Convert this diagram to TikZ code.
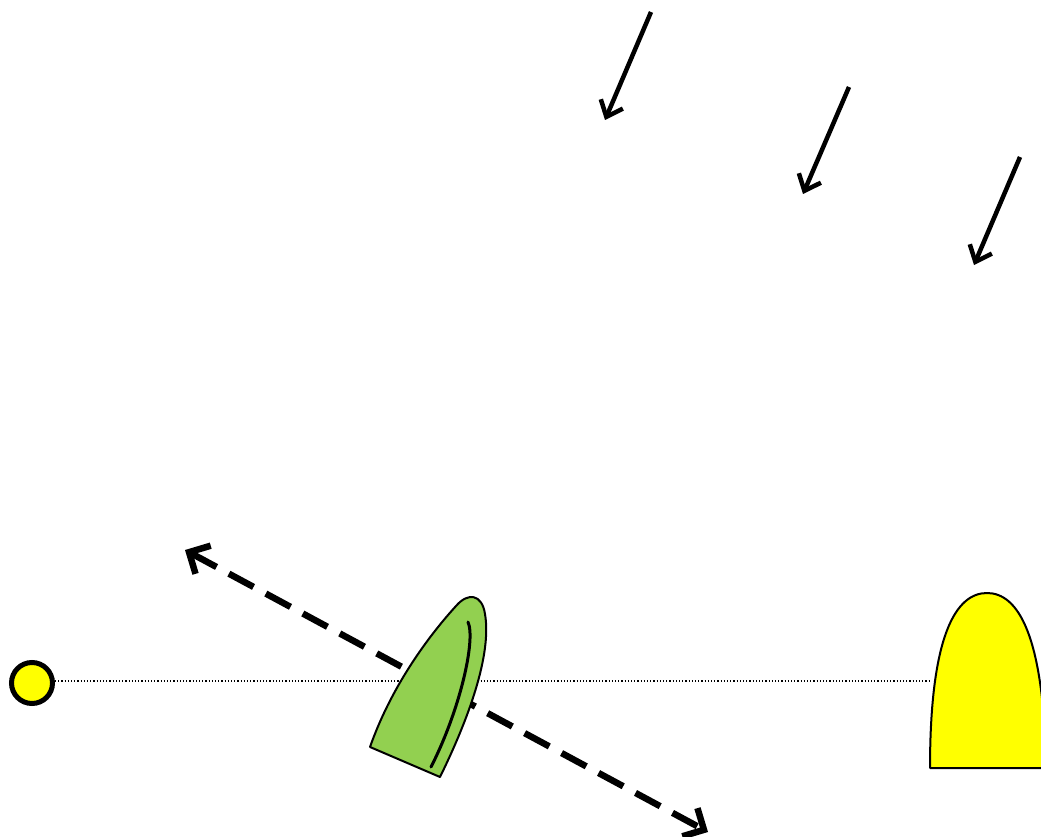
\documentclass[tikz,border=0pt]{standalone}
\usetikzlibrary{arrows.meta}
\definecolor{boatgreen}{RGB}{146,208,80}
\definecolor{boatyellow}{RGB}{255,255,0}
\begin{document}
\begin{tikzpicture}[x=1pt,y=-1pt,
  wind/.style={line width=4.5pt,-{Straight Barb[length=14pt,width=24pt]}},
  course/.style={line width=6.5pt,dash pattern=on 28pt off 14pt,{Straight Barb[length=16pt,width=32pt]}-{Straight Barb[length=16pt,width=32pt]}},
  hull/.style={draw=black,line width=2pt,line join=round}]
\useasboundingbox (0,0) rectangle (1041,837);
\begin{scope}
\clip (0,0) rectangle (1041,837);
% dotted line
\coordinate (lineend) at (930,681);
\node[circle,draw=black,line width=5pt,fill=boatyellow,minimum size=41pt,inner sep=0pt] (mark) at (32,683) {};
\draw[dotted,line width=1.2pt] (mark.east |- 0,681) -- (lineend);
% dashed course arrow
\coordinate (c1) at (185,550);
\coordinate (c2) at (708,832);
\draw[course] (c1) -- (c2);
% green boat
\draw[hull,fill=boatgreen] (370,747) -- (440,777) .. controls (468,720) and (492,655) .. (485,614) .. controls (482,594) and (468,592) .. (456,606) .. controls (425,640) and (390,690) .. (370,747) -- cycle;
\draw[line width=3pt,line cap=round] (468,622) .. controls (476,640) and (460,710) .. (431,767);
% yellow boat
\draw[hull,fill=boatyellow] (930,768) -- (1046,768) .. controls (1044,635) and (1018,593) .. (987,593) .. controls (956,593) and (930,635) .. (930,768) -- cycle;
% wind arrows
\coordinate (w1s) at (651,12);  \coordinate (w1e) at (605,120);
\coordinate (w2s) at (849,87);  \coordinate (w2e) at (803,194);
\coordinate (w3s) at (1020,157); \coordinate (w3e) at (974,265);
\draw[wind] (w1s) -- (w1e);
\draw[wind] (w2s) -- (w2e);
\draw[wind] (w3s) -- (w3e);
\end{scope}
\end{tikzpicture}
\end{document}
